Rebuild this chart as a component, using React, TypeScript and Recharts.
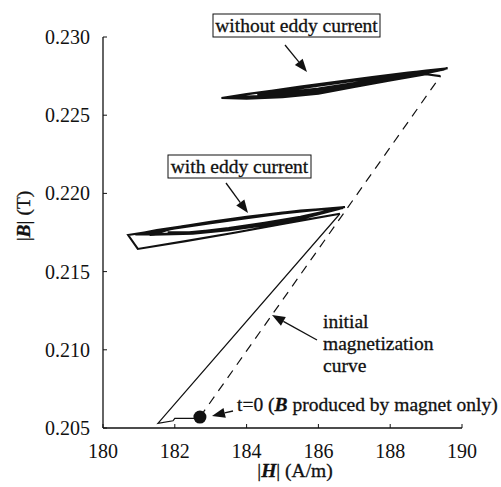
import React from "react";
import { ComposedChart, Line, Scatter, XAxis, YAxis } from "recharts";

// |H| in A/m, |B| in T
type Pt = { h: number; b: number };
const pts = (rows: number[][]): Pt[] => rows.map(([h, b]) => ({ h, b }));

const xTicks = [180, 182, 184, 186, 188, 190];
const yTicks = [0.205, 0.21, 0.215, 0.22, 0.225, 0.23];

const startPoint = pts([[182.7, 0.2057]]);

// dashed initial magnetization curve (no eddy current)
const initialCurve = pts([
  [182.7, 0.2057],
  [189.4, 0.2275],
]);

// with eddy current: from t=0 along the bottom, then up the ramp
const rampWithEddy = pts([
  [182.7, 0.2057],
  [182.55, 0.20562],
  [182.0, 0.20562],
  [181.95, 0.20546],
  [181.53, 0.2053],
  [186.6, 0.2187],
]);

const loopWithEddy = pts([
  [186.6, 0.2187],
  [185.0, 0.21805],
  [183.7, 0.2175],
  [182.3, 0.21695],
  [180.97, 0.21645],
  [180.7, 0.21734],
  [181.5, 0.21762],
  [182.5, 0.21797],
  [183.5, 0.2183],
  [184.5, 0.2186],
  [185.5, 0.21888],
  [186.74, 0.21913],
  [185.5, 0.2185],
  [184.5, 0.21812],
  [183.5, 0.21778],
  [182.5, 0.21752],
  [181.5, 0.21738],
  [180.9, 0.21738],
  [181.5, 0.21765],
  [182.5, 0.218],
  [183.5, 0.21835],
  [184.5, 0.21864],
  [185.5, 0.2189],
  [186.7, 0.2191],
  [185.5, 0.21845],
  [184.5, 0.21805],
  [183.5, 0.21772],
  [182.5, 0.21748],
  [181.6, 0.21737],
  [181.1, 0.2174],
  [182.0, 0.21776],
  [183.0, 0.2181],
  [184.0, 0.21842],
  [185.0, 0.21872],
  [186.0, 0.21895],
  [186.68, 0.21906],
  [185.5, 0.21836],
  [184.5, 0.21796],
  [183.5, 0.21765],
  [182.5, 0.21742],
  [181.4, 0.21736],
  [182.0, 0.21782],
  [183.0, 0.21818],
  [184.0, 0.2185],
  [185.0, 0.21878],
  [186.0, 0.21899],
  [186.65, 0.21908],
  [185.5, 0.21842],
  [184.5, 0.21802],
  [183.5, 0.21768],
  [182.5, 0.21745],
  [181.3, 0.21735],
  [182.2, 0.2179],
  [183.2, 0.21824],
  [184.2, 0.21855],
  [185.2, 0.21882],
  [186.2, 0.21902],
  [186.6, 0.21906],
  [185.5, 0.21848],
  [184.5, 0.21808],
  [183.5, 0.21775],
  [182.4, 0.21752],
  [181.8, 0.21752],
]);

const loopWithoutEddy = pts([
  [189.4, 0.2275],
  [189.0, 0.22762],
  [188.0, 0.22722],
  [187.0, 0.2268],
  [186.0, 0.22638],
  [185.0, 0.22615],
  [184.0, 0.22606],
  [183.3, 0.2261],
  [184.0, 0.22635],
  [185.0, 0.22665],
  [186.0, 0.22698],
  [187.0, 0.22728],
  [188.0, 0.22757],
  [189.0, 0.22785],
  [189.6, 0.228],
  [189.0, 0.22772],
  [188.0, 0.22733],
  [187.0, 0.22692],
  [186.0, 0.2265],
  [185.0, 0.22628],
  [184.0, 0.2262],
  [183.6, 0.2262],
  [184.5, 0.2265],
  [185.5, 0.22683],
  [186.5, 0.22714],
  [187.5, 0.22744],
  [188.5, 0.22772],
  [189.55, 0.22797],
  [189.0, 0.22776],
  [188.0, 0.2274],
  [187.0, 0.227],
  [186.0, 0.22662],
  [185.0, 0.22638],
  [184.3, 0.2263],
  [185.0, 0.22662],
  [186.0, 0.22694],
  [187.0, 0.22726],
  [188.0, 0.22755],
  [189.0, 0.22782],
  [189.5, 0.22792],
  [189.0, 0.22768],
  [188.0, 0.22728],
  [187.0, 0.22686],
  [186.0, 0.22645],
  [185.0, 0.22622],
  [184.2, 0.22615],
  [185.0, 0.22655],
  [186.0, 0.22688],
  [187.0, 0.2272],
  [188.0, 0.2275],
  [189.0, 0.22778],
  [189.55, 0.22795],
  [189.0, 0.2278],
  [188.0, 0.22745],
  [187.0, 0.22706],
  [186.0, 0.2267],
  [185.0, 0.22645],
  [184.6, 0.22642],
  [185.5, 0.2268],
  [186.5, 0.2271],
  [187.5, 0.2274],
  [188.5, 0.22768],
  [189.45, 0.2279],
]);

const FONT = "'Liberation Serif', 'Times New Roman', serif";
const INK = "#111";

function XTick(props: any) {
  const { x, y, payload } = props;
  return (
    <g>
      <line x1={x} y1={y} x2={x} y2={y - 4} stroke={INK} strokeWidth={1} />
      <text x={x} y={y + 30} textAnchor="middle" fontFamily={FONT} fontSize={20} fill={INK}>
        {payload.value}
      </text>
    </g>
  );
}

function YTick(props: any) {
  const { x, y, payload } = props;
  return (
    <g>
      <line x1={x} y1={y} x2={x + 4} y2={y} stroke={INK} strokeWidth={1} />
      <text x={x - 13} y={y + 7} textAnchor="end" fontFamily={FONT} fontSize={20} fill={INK}>
        {Number(payload.value).toFixed(3)}
      </text>
    </g>
  );
}

function Arrow({ x1, y1, x2, y2 }: { x1: number; y1: number; x2: number; y2: number }) {
  const len = Math.hypot(x2 - x1, y2 - y1);
  const ux = (x2 - x1) / len;
  const uy = (y2 - y1) / len;
  const hl = 13;
  const hw = 5;
  const bx = x2 - ux * hl;
  const by = y2 - uy * hl;
  return (
    <g>
      <line x1={x1} y1={y1} x2={bx} y2={by} stroke={INK} strokeWidth={1.3} />
      <polygon
        points={`${x2},${y2} ${bx - uy * hw},${by + ux * hw} ${bx + uy * hw},${by - ux * hw}`}
        fill={INK}
      />
    </g>
  );
}

function Notes() {
  const t = { fontFamily: FONT, fontSize: 19.5, fill: INK, stroke: INK, strokeWidth: 0.3 };
  return (
    <svg
      width={501}
      height={487}
      style={{ position: "absolute", left: 0, top: 0, pointerEvents: "none" }}
    >
      <rect x={213} y={14} width={167} height={23} fill="#fff" stroke={INK} strokeWidth={1} />
      <text x={296.5} y={32} textAnchor="middle" {...t}>
        without eddy current
      </text>
      <Arrow x1={285} y1={45} x2={307} y2={72} />

      <rect x={168} y={155} width={143} height={23} fill="#fff" stroke={INK} strokeWidth={1} />
      <text x={239.5} y={173} textAnchor="middle" {...t}>
        with eddy current
      </text>
      <Arrow x1={226} y1={183} x2={248} y2={213} />

      <text x={323} y={328} {...t}>initial</text>
      <text x={323} y={350} {...t}>magnetization</text>
      <text x={323} y={372} {...t}>curve</text>
      <Arrow x1={317} y1={340} x2={272} y2={315} />

      <text x={237} y={411} {...t}>
        t=0 (<tspan fontStyle="italic" fontWeight="bold">B</tspan> produced by magnet only)
      </text>
      <Arrow x1={233} y1={411} x2={212} y2={416} />

      <text x={295} y={477} textAnchor="middle" {...t}>
        |<tspan fontStyle="italic" fontWeight="bold">H</tspan>| (A/m)
      </text>
      <text x={23} y={216} textAnchor="middle" dominantBaseline="central" transform="rotate(-90 23 216)" {...t}>
        |<tspan fontStyle="italic" fontWeight="bold">B</tspan>| (T)
      </text>
    </svg>
  );
}

export default function App() {
  return (
    <div style={{ position: "absolute", left: 0, top: 0, width: 501, height: 487, background: "#fff" }}>
      <ComposedChart
        width={501}
        height={487}
        margin={{ top: 37, right: 39, bottom: 19, left: 43 }}
      >
        <XAxis
          dataKey="h"
          type="number"
          domain={[180, 190]}
          ticks={xTicks}
          allowDataOverflow
          height={40}
          tick={<XTick />}
          tickSize={0}
          tickMargin={0}
          tickLine={false}
          axisLine={{ stroke: INK, strokeWidth: 1.3 }}
        />
        <YAxis
          dataKey="b"
          type="number"
          domain={[0.205, 0.23]}
          ticks={yTicks}
          allowDataOverflow
          width={60}
          tick={<YTick />}
          tickSize={0}
          tickMargin={0}
          tickLine={false}
          axisLine={{ stroke: INK, strokeWidth: 1.3 }}
        />
        <Line
          data={initialCurve}
          dataKey="b"
          type="linear"
          stroke={INK}
          strokeWidth={1.2}
          strokeDasharray="9 7"
          dot={false}
          isAnimationActive={false}
        />
        <Line
          data={loopWithoutEddy}
          dataKey="b"
          type="linear"
          stroke={INK}
          strokeWidth={2.1}
          dot={false}
          isAnimationActive={false}
        />
        <Line
          data={rampWithEddy}
          dataKey="b"
          type="linear"
          stroke={INK}
          strokeWidth={1.2}
          dot={false}
          isAnimationActive={false}
        />
        <Line
          data={loopWithEddy}
          dataKey="b"
          type="linear"
          stroke={INK}
          strokeWidth={2.1}
          dot={false}
          isAnimationActive={false}
        />
        <Scatter
          data={startPoint}
          dataKey="b"
          isAnimationActive={false}
          shape={(p: any) => <circle cx={p.cx} cy={p.cy} r={6.5} fill={INK} />}
        />
      </ComposedChart>
      <Notes />
    </div>
  );
}
